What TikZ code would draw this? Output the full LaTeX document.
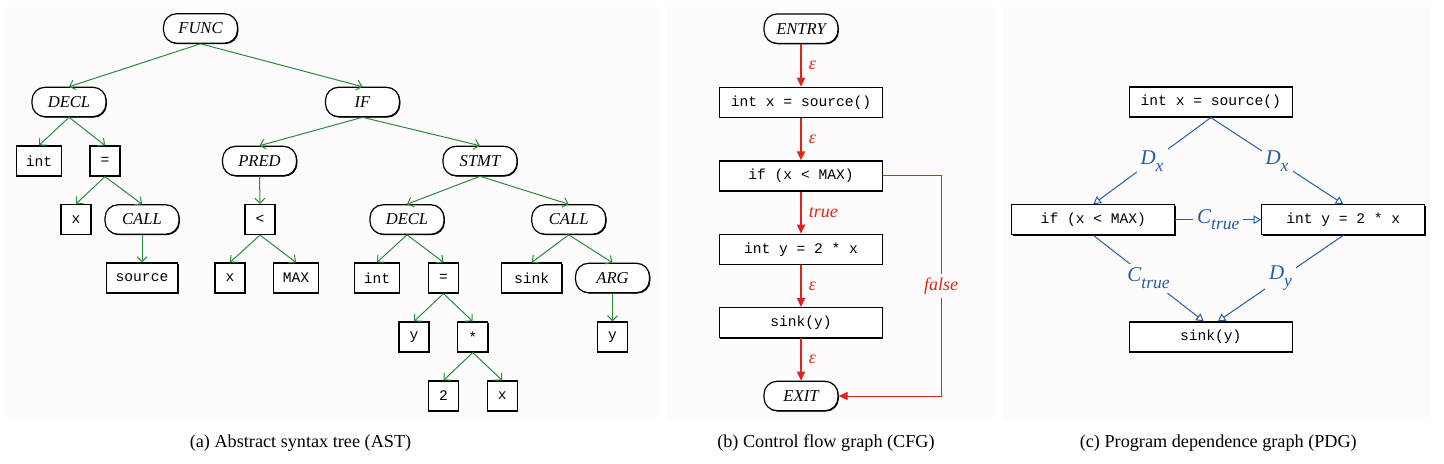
\documentclass[tikz,border=0pt]{standalone}
\usepackage{fontspec}
\setmainfont{Liberation Serif}
\newfontfamily\codefont{Liberation Mono}
\usetikzlibrary{arrows.meta,shadows}

\definecolor{panelbg}{RGB}{253,251,252}
\definecolor{astgreen}{RGB}{40,140,60}
\definecolor{cfgred}{RGB}{225,35,25}
\definecolor{pdgblue}{RGB}{35,95,165}

\newcommand\pdgsub[2]{#1\raisebox{-0.7ex}{\fontsize{8.8}{9}\selectfont #2}}

\begin{document}
\begin{tikzpicture}[x=0.5pt, y=-0.5pt,
  shade/.style={drop shadow={shadow xshift=0.45pt, shadow yshift=-0.45pt, opacity=1, fill=black}},
  nt/.style={rectangle, rounded corners=6.5pt, draw, line width=0.6pt, fill=white, shade,
    minimum width=37pt, minimum height=14.7pt, inner ysep=0pt,
    font=\itshape\fontsize{8.3}{9}\selectfont},
  leaf/.style={rectangle, draw, line width=0.6pt, fill=white, shade,
    minimum width=15pt, minimum height=15pt, inner xsep=4.7pt, inner ysep=0pt,
    font=\codefont\fontsize{7.3}{8}\selectfont},
  stmt/.style={leaf, minimum width=81.5pt},
  astedge/.style={draw=astgreen, line width=0.5pt, -{Straight Barb[length=2.5pt,width=5pt]}},
  cfgedge/.style={draw=cfgred, line width=0.8pt, -{Triangle[length=4.5pt,width=4pt]}},
  pdgedge/.style={draw=pdgblue, line width=0.5pt, -{Triangle[open,length=3.8pt,width=4.2pt]}},
  cfglab/.style={text=cfgred, inner sep=2pt, font=\itshape\fontsize{9}{10}\selectfont},
  pdglab/.style={fill=panelbg, text=pdgblue, inner sep=2pt, font=\itshape\fontsize{10.5}{11}\selectfont},
  caption/.style={anchor=base, font=\fontsize{9.1}{11}\selectfont}]
  \useasboundingbox (0,0) rectangle (1444,464);

  % Panels
  \fill[panelbg] (7,6) rectangle (657,419);
  \fill[panelbg] (667,6) rectangle (993,419);
  \fill[panelbg] (1003,6) rectangle (1431,419);

  % AST
  \node[nt] (func) at (200.5,28.5) {FUNC};
  \node[nt] (decl) at (69,102) {DECL};
  \node[nt] (if) at (362.5,102) {IF};
  \node[leaf] (int) at (39,161) {int};
  \node[leaf] (assign) at (105,161) {=};
  \node[nt] (pred) at (259.5,161) {PRED};
  \node[nt] (body) at (480,161) {STMT};
  \node[leaf] (xa) at (76,219.5) {x};
  \node[nt] (call) at (142,219.5) {CALL};
  \node[leaf] (lt) at (260,219.5) {<};
  \node[nt] (declb) at (407,219.5) {DECL};
  \node[nt] (callb) at (568.7,219.5) {CALL};
  \node[leaf] (source) at (142,278) {source};
  \node[leaf] (xb) at (230,278) {x};
  \node[leaf] (max) at (296,278) {MAX};
  \node[leaf] (intb) at (377,278) {int};
  \node[leaf] (assignb) at (443.5,278) {=};
  \node[leaf, minimum width=30pt] (sink) at (531.7,278) {sink};
  \node[nt] (arg) at (612.5,278) {ARG};
  \node[leaf] (ya) at (414,337) {y};
  \node[leaf] (mul) at (472.7,337) {*};
  \node[leaf] (yb) at (612.5,337) {y};
  \node[leaf] (two) at (443.5,396) {2};
  \node[leaf] (xc) at (502.3,396) {x};

  \foreach \a/\b in {func/decl, func/if, decl/int, decl/assign, assign/xa,
      assign/call, call/source, if/pred, if/body, pred/lt, lt/xb, lt/max,
      body/declb, body/callb, declb/intb, declb/assignb, assignb/ya,
      assignb/mul, mul/two, mul/xc, callb/sink, callb/arg, arg/yb}
    \draw[astedge] (\a.south) -- (\b.north);

  % CFG
  \node[nt] (entry) at (801,28.7) {ENTRY};
  \node[stmt] (c1) at (801,102.3) {int x = source()};
  \node[stmt] (c2) at (801,176) {if (x < MAX)};
  \node[stmt] (c3) at (801,249.3) {int y = 2 * x};
  \node[stmt] (c4) at (801,322.7) {sink(y)};
  \node[nt] (exit) at (801,396) {EXIT};

  \foreach \a/\b/\l in {entry/c1/ε, c1/c2/ε, c2/c3/true, c3/c4/ε, c4/exit/ε}
    \draw[cfgedge] (\a.south) -- node[midway, right=1.5pt, cfglab] {\l} (\b.north);
  \draw[cfgedge, line width=0.5pt] (c2.east) -- ++(58,0)
    |- node[pos=0.25, cfglab, fill=panelbg] {false} (exit.east);

  % PDG
  \node[stmt] (p1) at (1210.8,102) {int x = source()};
  \node[stmt] (p2) at (1093.3,219.7) {if (x < MAX)};
  \node[stmt] (p3) at (1343.3,219.7) {int y = 2 * x};
  \node[stmt] (p4) at (1210.8,337) {sink(y)};

  \draw[pdgedge] (p1.south) -- node[pdglab] {\pdgsub{D}{x}} (p2.north);
  \draw[pdgedge] (p1.south) -- node[pdglab] {\pdgsub{D}{x}} (p3.north);
  \draw[pdgedge] (p2.east) -- node[pdglab] {\pdgsub{C}{true}} (p3.west);
  \draw[pdgedge] (p2.south) -- node[pdglab] {\pdgsub{C}{true}} ([xshift=-3.5pt]p4.north);
  \draw[pdgedge] (p3.south) -- node[pdglab] {\pdgsub{D}{y}} ([xshift=3.5pt]p4.north);

  % Captions
  \node[caption] (capa) at (300.5,447) {(a) Abstract syntax tree (AST)};
  \node[caption] (capb) at (826,447) {(b) Control flow graph (CFG)};
  \node[caption] (capc) at (1218.3,447) {(c) Program dependence graph (PDG)};
\end{tikzpicture}
\end{document}
